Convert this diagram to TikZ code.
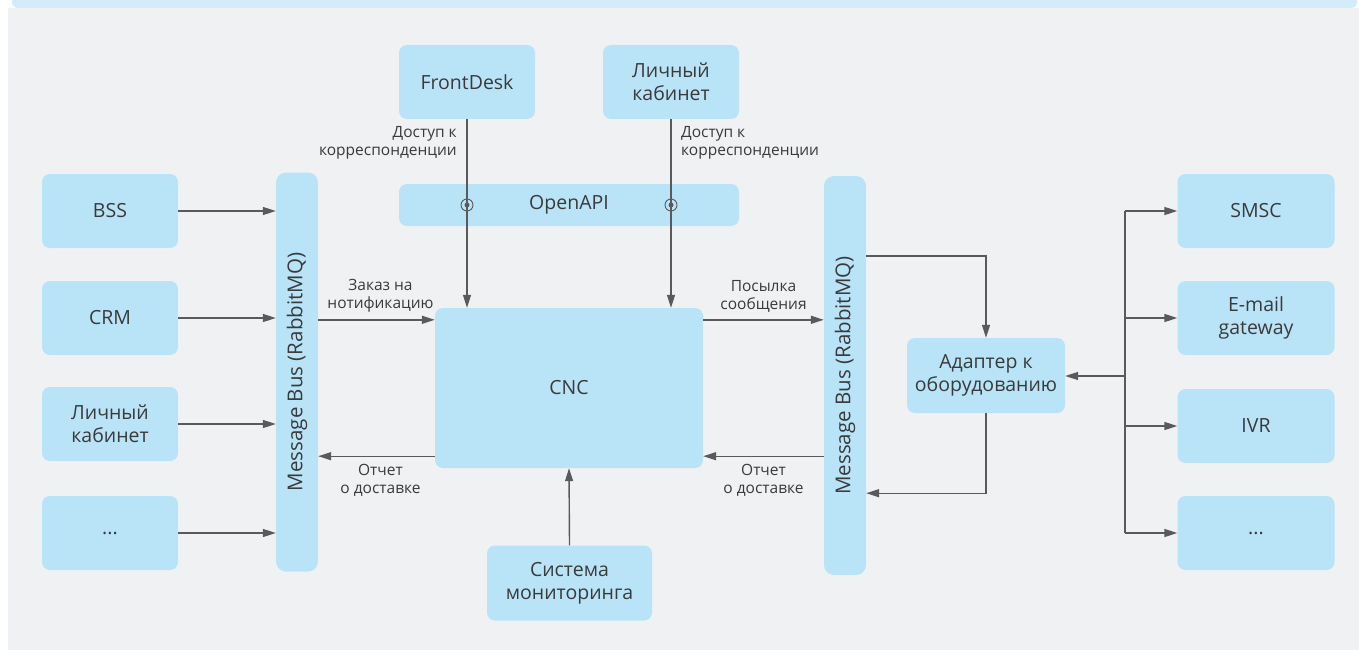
\documentclass[tikz,border=0pt]{standalone}
\usepackage{fontspec}
\setmainfont{Open Sans}
\usetikzlibrary{arrows.meta,positioning}

\definecolor{boxblue}{HTML}{B9E4F8}
\definecolor{panelgray}{HTML}{F0F1F3}
\definecolor{stripblue}{HTML}{D4ECF9}
\definecolor{linegray}{HTML}{5A5A5A}
\definecolor{textgray}{HTML}{3A3A3A}

\begin{document}
\begin{tikzpicture}[
    x=1pt, y=-1pt,
    block/.style={
        fill=boxblue,
        rounded corners=8pt,
        text=textgray,
        align=center,
        font=\fontsize{19.5}{23}\selectfont,
        minimum width=136pt,
        minimum height=74pt,
        inner sep=0pt
    },
    bus/.style={block, rotate=90, minimum width=399pt, minimum height=42pt, rounded corners=10pt,
        font=\fontsize{20.5}{23}\selectfont},
    note/.style={text=textgray, font=\fontsize{15.5}{18}\selectfont, inner sep=0pt},
    wire/.style={draw=linegray, line width=1.4pt},
    conn/.style={wire, -{Triangle[length=13pt,width=8pt]}},
    tap/.style={draw=linegray, line width=0.9pt}
    ]

    % background
    \useasboundingbox (0,0) rectangle (1359,650);
    \fill[white] (0,0) rectangle (1359,650);
    \fill[panelgray] (8,8) rectangle (1359,650);
    \fill[stripblue] (12,0) -- (1357,0) [rounded corners=6pt] -- (1357,8) -- (12,8) [sharp corners] -- cycle;

    % sources
    \node[block] (bss)  at (110,211) {BSS};
    \node[block] (crm)  at (110,318) {CRM};
    \node[block] (lkL)  at (110,424) {Личный\\кабинет};
    \node[block] (etcL) at (110,533) {...};

    \node[bus] (busL) at (297,372) {Message Bus (RabbitMQ)};

    % core
    \node[block] (fd)  at (467,82) {FrontDesk};
    \node[block] (lkT) at (671,82) {Личный\\кабинет};
    \node[block, minimum width=340pt, minimum height=42pt] (api) at (569,205) {OpenAPI};
    \node[block, minimum width=268pt, minimum height=160pt] (cnc) at (569,388) {CNC};
    \node[block, minimum width=165pt, minimum height=75pt] (mon) at (569.5,583) {Система\\мониторинга};

    \node[bus] (busR) at (845,375.5) {Message Bus (RabbitMQ)};
    \node[block, minimum width=158pt, minimum height=75pt] (adapter) at (986,375.5) {Адаптер к\\оборудованию};

    % channels
    \node[block, minimum width=157pt] (smsc)  at (1256,211) {SMSC};
    \node[block, minimum width=157pt] (email) at (1256,318) {E-mail\\gateway};
    \node[block, minimum width=157pt] (ivr)   at (1256,426) {IVR};
    \node[block, minimum width=157pt] (etcR)  at (1256,533) {...};

    % left side
    \foreach \n in {bss,crm,lkL,etcL}
        \draw[conn] (\n.east) -- (\n.east -| busL.north);

    \coordinate (cncIn)  at ([yshift=-12pt]cnc.north west);
    \coordinate (cncOut) at ([yshift=12pt]cnc.south west);
    \draw[conn] (cncIn -| busL.south) -- node[note, align=center, above=7pt, xshift=4pt] {Заказ на\\нотификацию} (cncIn);
    \draw[conn] (cncOut) -- node[note, align=center, below=7pt, xshift=4pt] {Отчет\\о доставке} (cncOut -| busL.south);

    % top
    \draw[conn] (fd.south) -- (fd.south |- cnc.north);
    \draw[conn] (lkT.south) -- (lkT.south |- cnc.north);
    \node[note, align=right, below left=7pt and 10pt of fd.south] (fdNote) {Доступ к\\корреспонденции};
    \node[note, align=left, below right=7pt and 10pt of lkT.south] (lkNote) {Доступ к\\корреспонденции};
    \foreach \n in {fd,lkT} {
        \draw[tap] (\n.south |- api.center) circle (6pt);
        \fill[linegray] (\n.south |- api.center) circle (2.5pt);
    }

    \draw[conn] (mon.north) -- (cnc.south);

    % right side
    \coordinate (cncOutR) at ([yshift=-12pt]cnc.north east);
    \coordinate (cncInR)  at ([yshift=12pt]cnc.south east);
    \draw[conn] (cncOutR) -- node[note, align=center, above=7pt] {Посылка\\сообщения} (cncOutR -| busR.north);
    \draw[conn] (cncInR -| busR.north) -- node[note, align=center, below=7pt] {Отчет\\о доставке} (cncInR);

    \coordinate (toAd)   at ([yshift=-80pt]busR.east);
    \coordinate (fromAd) at ([yshift=82pt]busR.west);
    \draw[conn] (toAd -| busR.south) -| (adapter.north);
    \draw[conn] (adapter.south) |- (fromAd -| busR.south);

    \coordinate (hub) at (1125,376);
    \draw[conn] (hub) -- (hub -| adapter.east);
    \draw[wire] (hub |- smsc.west) -- (hub |- etcR.west);
    \foreach \n in {smsc,email,ivr,etcR}
        \draw[conn] (hub |- \n.west) -- (\n.west);
\end{tikzpicture}
\end{document}
